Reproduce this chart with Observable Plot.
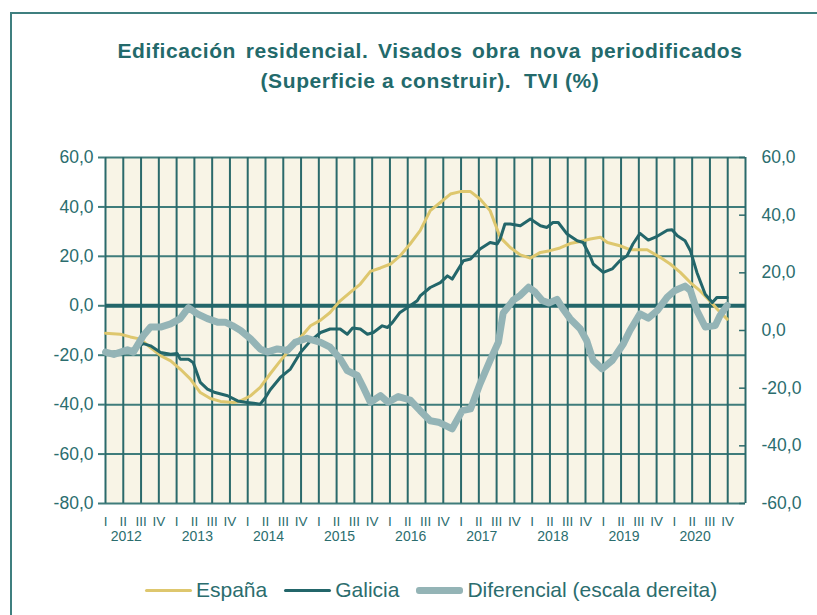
<!DOCTYPE html>
<html>
<head>
<meta charset="utf-8">
<script src="https://cdn.jsdelivr.net/npm/d3@7"></script>
<script src="https://cdn.jsdelivr.net/npm/@observablehq/plot@0.6"></script>
<style>
  html, body { margin:0; padding:0; background:#fff; overflow:hidden; width:817px; height:615px; }
  body { position:relative; font-family:"Liberation Sans", Arial, sans-serif; }
  #frame { position:absolute; left:10px; top:12px; width:1000px; height:1000px; border-left:2px solid #3f7f7f; border-top:2px solid #3f7f7f; }
  #title { position:absolute; left:0; width:860px; top:36px; text-align:center; font-weight:bold; font-size:21px; letter-spacing:0.6px; color:#236a6b; line-height:30px; }
  #title .l1 { word-spacing:3.2px; }
  #chart { position:absolute; left:0; top:130px; }
  #legend { position:absolute; left:145px; top:578px; display:flex; align-items:center; font-size:21px; color:#2b6d6e; }
  .sw { width:47px; border-radius:3px; margin-right:4px; }
  .item { display:flex; align-items:center; margin-right:17px; }
</style>
</head>
<body>
<div id="frame"></div>
<div id="title"><span class="l1">Edificación residencial. Visados obra nova periodificados</span><br>(Superficie a construir).&nbsp; TVI (%)</div>
<div id="chart"></div>
<div id="legend"></div>
<script>
// Month index: 0 = January 2012
const espanaM = [0,2.5,4.2,5.9,7.6,9.3,11,12.6,14.3,16,17.7,19.4,21.6,22.8,24.5,26.1,27.8,29.5,31.2,32.9,34.6,36.3,37.9,39.6,41.3,43,44.7,46.4,48.1,49.7,51.4,53.1,54.8,56.5,58.2,59.9,61.6,63.2,64.9,66.6,68.3,70,71.7,73.4,75,76.7,78.4,80.1,81.8,83.5,84.7,86.8,88.5,91.4,93.6,95.3,97,98.7,100.3,102,103.2,104.9];
const espanaV = [-11.1,-11.5,-12.6,-13.5,-16.9,-20.2,-22.3,-25.6,-29.6,-35.1,-37.5,-38.7,-39.1,-38.5,-36.4,-33,-27.5,-22.3,-17.4,-12.8,-8.1,-5.8,-2.7,2,5.4,8.8,13.9,15.3,16.9,20.2,25,30.4,38.5,41.8,45.2,46.2,46.2,43.2,38.5,27.7,23.6,20.6,19.3,21.6,22.3,23.4,25.2,26,27,27.7,25.6,24.3,22.7,22.7,19.6,16.9,13.5,9.4,6.1,2,-1.3,-5.4];

const galiciaM = [0,2.5,4.7,6.4,7.6,9.3,11,12.1,12.6,14,14.8,16,17.2,18.5,20.6,22.3,23.9,26.1,27,27.8,29.5,31.2,32.9,34.6,36.3,37.9,39.6,40.8,41.7,43,44.2,45.2,46.7,47.6,48.4,49.7,51.4,52.6,53.1,54.8,56.5,57.7,58.5,60.4,61.6,63.2,64.9,66.1,66.6,67.4,68.3,70,71.7,73.4,74.5,75.5,76.4,77.9,79.6,80.6,81.8,82.3,84,85.5,86.8,88,89,90.2,91.6,93.1,94.8,95.6,96.5,97.8,98.7,99.8,101.2,102.4,103.2,104.9];
const galiciaV = [-19,-18.5,-17.5,-15.3,-16.2,-18.9,-19.6,-19.3,-21.6,-21.6,-23,-31,-33.7,-35.1,-36.4,-38.5,-39.1,-39.8,-37.1,-34,-29,-25.6,-18.9,-14.2,-10.8,-9.4,-9.4,-11.5,-9,-9.4,-11.5,-10.8,-8.1,-8.8,-6.8,-2.7,0,2,4,7.4,9.4,12.1,10.8,18.2,18.9,23,25.6,25,27,33.1,33.1,32.4,35.1,32.4,31.7,33.7,33.7,29,26.3,25.6,20,16.9,13.5,14.9,18.2,20.2,25,29.3,26.6,28.1,30.6,30.8,28.3,26.3,22.3,13.5,4.7,1.3,3.4,3.4];

// Diferencial, read on the right-hand scale
const difM = [0,1.4,3.7,4.7,6.4,7.6,9.3,11,12.6,14,15.5,17.2,18.9,20.2,21.4,22.8,24.5,26.1,27.3,29,30.7,32,34,36.3,37.9,39.6,40.8,42.5,43.5,44.7,46.4,47.7,49.4,51.4,53.1,54.8,56.2,58.5,60.2,61.6,63.2,64.9,66.3,67.1,68.8,70,71.4,72.5,73.7,74.8,76.2,77.2,78.4,80.1,81.2,82.3,83.8,85.5,87.4,88.5,90.2,91.6,93.1,94.8,96.1,97.8,98.7,99.8,101.2,102.9,103.7,104.9];
const difV = [-7.5,-8.3,-6.7,-7.5,-1.7,1.2,1.2,2.3,4.1,7.9,5.8,4.1,2.9,2.9,1.7,0,-2.9,-6.4,-7.5,-6.4,-6.9,-4.1,-2.7,-4.1,-5.8,-9.8,-13.9,-15.6,-19.7,-24.9,-22.6,-24.9,-22.9,-24.1,-27.8,-31.3,-31.8,-34.1,-27.8,-27.2,-18.5,-10.4,-4.1,6,10.5,12.2,15,13.3,10.4,9.5,10.8,7.5,4.1,0.6,-3.5,-10.4,-13.3,-10.4,-4.6,0,5.8,4.3,6.9,11.6,13.9,15.4,13.9,6.9,1.2,1.7,5.2,8.7];

const leftTicks = [-80,-60,-40,-20,0,20,40,60];
const rightTicks = [-60,-40,-20,0,20,40,60];
const years = [2012,2013,2014,2015,2016,2017,2018,2019,2020];
const quarterNames = ["I","II","III","IV"];

const cGrid = "#2b6a6b";
const cGridH = "#3f7c7b";
const cText = "#2b6d6e";
const cEsp = "#dec76e";
const cGal = "#23666a";
const cDif = "#94b4b6";

// right scale (-60..60) mapped onto left scale (-80..60)
const toLeft = v => -10 + v * 70 / 60;
const toRight = v => (v + 10) * 60 / 70;
const fmt = v => {
  const r = Math.round(v * 10) / 10;
  return (r < 0 ? "-" : "") + Math.abs(r).toFixed(1).replace(".", ",");
};

const espana = espanaM.map((m, i) => ({m, v: espanaV[i]}));
const galicia = galiciaM.map((m, i) => ({m, v: galiciaV[i]}));
const dif = difM.map((m, i) => ({m, v: difV[i]}));

const quarterLines = d3.range(0, 109, 3);
const quarterStarts = d3.range(0, 108, 3);
const yearPos = years.map((y, i) => i * 12 + 3.5);

const chart = Plot.plot({
  width: 817,
  height: 418,
  marginLeft: 105,
  marginRight: 72,
  marginTop: 27,
  marginBottom: 45,
  style: {fontFamily: "'Liberation Sans', Arial, sans-serif", background: "transparent"},
  x: {domain: [0, 108]},
  y: {domain: [-80, 60]},
  marks: [
    Plot.frame({fill: "#f8f4e6", stroke: null}),
    Plot.ruleY(leftTicks.filter(d => d !== 0), {stroke: cGridH, strokeWidth: 2}),
    Plot.ruleX(quarterLines, {stroke: cGrid, strokeWidth: 2}),
    Plot.ruleY([0], {stroke: cGal, strokeWidth: 4}),
    Plot.ruleY(rightTicks.map(toLeft), {x1: 107, x2: 108, stroke: cGrid, strokeWidth: 1.5}),
    Plot.axisY(leftTicks, {anchor: "left", tickFormat: fmt, tickSize: 7, tickPadding: 5, fontSize: 17.5, color: cText, stroke: cGridH, strokeWidth: 2, label: null}),
    Plot.axisY(rightTicks.map(toLeft), {anchor: "right", tickFormat: d => fmt(toRight(d)), tickSize: 0, tickPadding: 16, fontSize: 17.5, color: cText, label: null}),
    Plot.axisX(quarterStarts, {anchor: "bottom", tickFormat: d => quarterNames[(d / 3) % 4], tickSize: 0, tickPadding: 13, fontSize: 13.5, color: cText, label: null}),
    Plot.axisX(yearPos, {anchor: "bottom", tickFormat: (d, i) => String(years[i]), tickSize: 0, tickPadding: 28, fontSize: 14, color: cText, label: null}),
    Plot.line(espana, {x: "m", y: "v", stroke: cEsp, strokeWidth: 3, strokeLinejoin: "round"}),
    Plot.line(galicia, {x: "m", y: "v", stroke: cGal, strokeWidth: 3, strokeLinejoin: "round"}),
    Plot.line(dif, {x: "m", y: d => toLeft(d.v), stroke: cDif, strokeWidth: 7, strokeLinejoin: "round", strokeLinecap: "round"})
  ]
});
document.getElementById("chart").appendChild(chart);

const legendItems = [
  {name: "España", color: cEsp, w: 3},
  {name: "Galicia", color: cGal, w: 3},
  {name: "Diferencial (escala dereita)", color: cDif, w: 7}
];
const leg = document.getElementById("legend");
legendItems.forEach(it => {
  const d = document.createElement("div");
  d.className = "item";
  const s = document.createElement("div");
  s.className = "sw";
  s.style.height = it.w + "px";
  s.style.background = it.color;
  const t = document.createElement("span");
  t.textContent = it.name;
  d.appendChild(s); d.appendChild(t);
  leg.appendChild(d);
});
</script>
</body>
</html>
